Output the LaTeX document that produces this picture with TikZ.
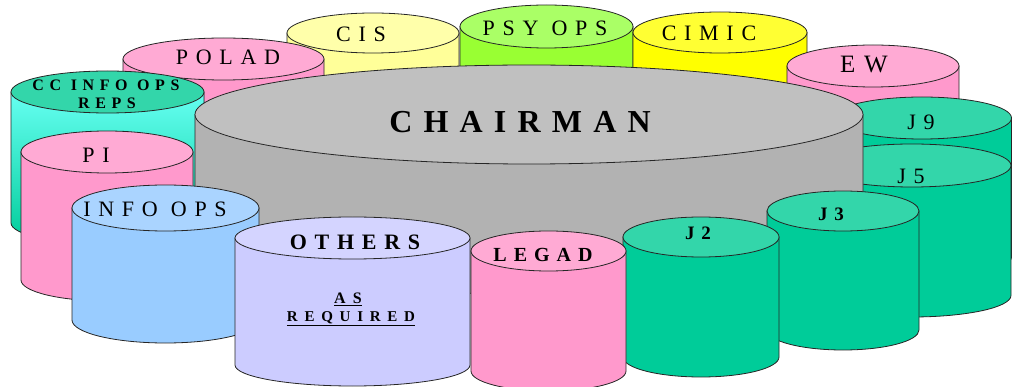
\documentclass[tikz,border=0pt]{standalone}
\usepackage{fontspec}
\setmainfont{Liberation Serif}[LetterSpace=35]
\newfontfamily\wide{Liberation Serif}[LetterSpace=45]
\definecolor{pinkS}{HTML}{FF99CC}
\definecolor{pinkT}{HTML}{FFAAD4}
\definecolor{paleyS}{HTML}{FFFF99}
\definecolor{paleyT}{HTML}{FFFFAA}
\definecolor{limeS}{HTML}{99FF33}
\definecolor{limeT}{HTML}{AAFF66}
\definecolor{yelS}{HTML}{FFFF00}
\definecolor{yelT}{HTML}{FFFF33}
\definecolor{greyS}{HTML}{B2B2B2}
\definecolor{greyT}{HTML}{C0C0C0}
\definecolor{tealS}{HTML}{00CC99}
\definecolor{tealT}{HTML}{33D6AA}
\definecolor{cyanS}{HTML}{66FFF2}
\definecolor{blueS}{HTML}{99CCFF}
\definecolor{blueT}{HTML}{AAD4FF}
\definecolor{lavS}{HTML}{CCCCFF}
\definecolor{lavT}{HTML}{D4D4FF}
\newcommand\cylinder[7]{%
  \pgfmathsetmacro\cx{#1}\pgfmathsetmacro\cy{-(#2)}%
  \pgfmathsetmacro\rx{#3}\pgfmathsetmacro\ry{#4}\pgfmathsetmacro\hh{#5}%
  \filldraw[#6,cylline] (\cx-\rx,\cy) -- (\cx-\rx,\cy-\hh)
     arc[start angle=180,end angle=360,x radius=\rx,y radius=\ry]
     -- (\cx+\rx,\cy) -- cycle;
  \filldraw[fill=#7,cylline] (\cx,\cy) ellipse[x radius=\rx,y radius=\ry];
}
\begin{document}
\begin{tikzpicture}[x=1pt,y=1pt,
  cylline/.style={draw=black!85,line width=0.8pt},
  lab/.style={inner sep=0pt,anchor=center,text=black}]
\useasboundingbox (0,0) rectangle (1012,-387);
% back row
\cylinder{373}{33}{86}{20}{100}{fill=paleyS}{paleyT}
\cylinder{546.5}{26.5}{86.5}{21.5}{100}{fill=limeS}{limeT}
\cylinder{720}{32.5}{87}{20.5}{100}{fill=yelS}{yelT}
\cylinder{223.5}{59}{100.5}{21}{100}{fill=pinkS}{pinkT}
\cylinder{873}{66}{86}{21}{80}{fill=pinkS}{pinkT}
\cylinder{107.5}{92}{96.5}{21}{131}{top color=cyanS,bottom color=tealS}{tealT}
\cylinder{107}{152}{86}{21}{128}{fill=pinkS}{pinkT}
\cylinder{922}{118}{89.5}{21}{139}{fill=tealS}{tealT}
\cylinder{912}{165.5}{99}{21.5}{130}{fill=tealS}{tealT}
% chairman
\cylinder{529}{114.5}{334}{49.5}{130}{fill=greyS}{greyT}
% front row
\cylinder{165.5}{208}{93.5}{23}{112}{fill=blueS}{blueT}
\cylinder{352.5}{238}{117.5}{21}{127}{fill=lavS}{lavT}
\cylinder{843}{211}{76}{20}{119}{fill=tealS}{tealT}
\cylinder{701}{237}{78}{20}{120}{fill=tealS}{tealT}
\cylinder{548.5}{251}{77.5}{20}{120}{fill=pinkS}{pinkT}
% labels
\node[lab] (cis) at (361,-34) {\fontsize{22}{24}\selectfont CIS};
\node[lab] (psyops) at (545,-28) {\fontsize{22}{24}\selectfont PSY OPS};
\node[lab] (cimic) at (709,-33) {\fontsize{22}{24}\selectfont CIMIC};
\node[lab] (polad) at (228,-57) {\fontsize{22}{24}\selectfont POLAD};
\node[lab] (ew) at (864,-65) {\fontsize{25}{27}\selectfont EW};
\node[lab] (cc) at (106,-85) {\fontsize{16}{18}\selectfont\bfseries CC INFO OPS};
\node[lab] (reps) at (107,-103) {\fontsize{16}{18}\selectfont\bfseries REPS};
\node[lab] (pi) at (96,-155) {\fontsize{22}{24}\selectfont PI};
\node[lab] (j9) at (921,-122) {\fontsize{22}{24}\selectfont J9};
\node[lab] (j5) at (911,-176) {\fontsize{22}{24}\selectfont J5};
\node[lab] (chairman) at (520,-122) {\fontsize{32}{36}\selectfont\bfseries CHAIRMAN};
\node[lab] (infoops) at (155,-209) {\fontsize{22}{24}\selectfont INFO OPS};
\node[lab] (others) at (355,-242) {\fontsize{22}{24}\selectfont\bfseries OTHERS};
\node[lab] (as) at (348,-299) {\wide\fontsize{16}{18}\selectfont\bfseries\underline{AS}};
\node[lab] (required) at (351,-319) {\wide\fontsize{15}{17}\selectfont\bfseries\underline{REQUIRED}};
\node[lab] (legad) at (543,-255) {\fontsize{20}{22}\selectfont\bfseries LEGAD};
\node[lab] (j2) at (698,-233) {\fontsize{19}{21}\selectfont\bfseries J2};
\node[lab] (j3) at (831,-214) {\fontsize{19}{21}\selectfont\bfseries J3};
\end{tikzpicture}
\end{document}
